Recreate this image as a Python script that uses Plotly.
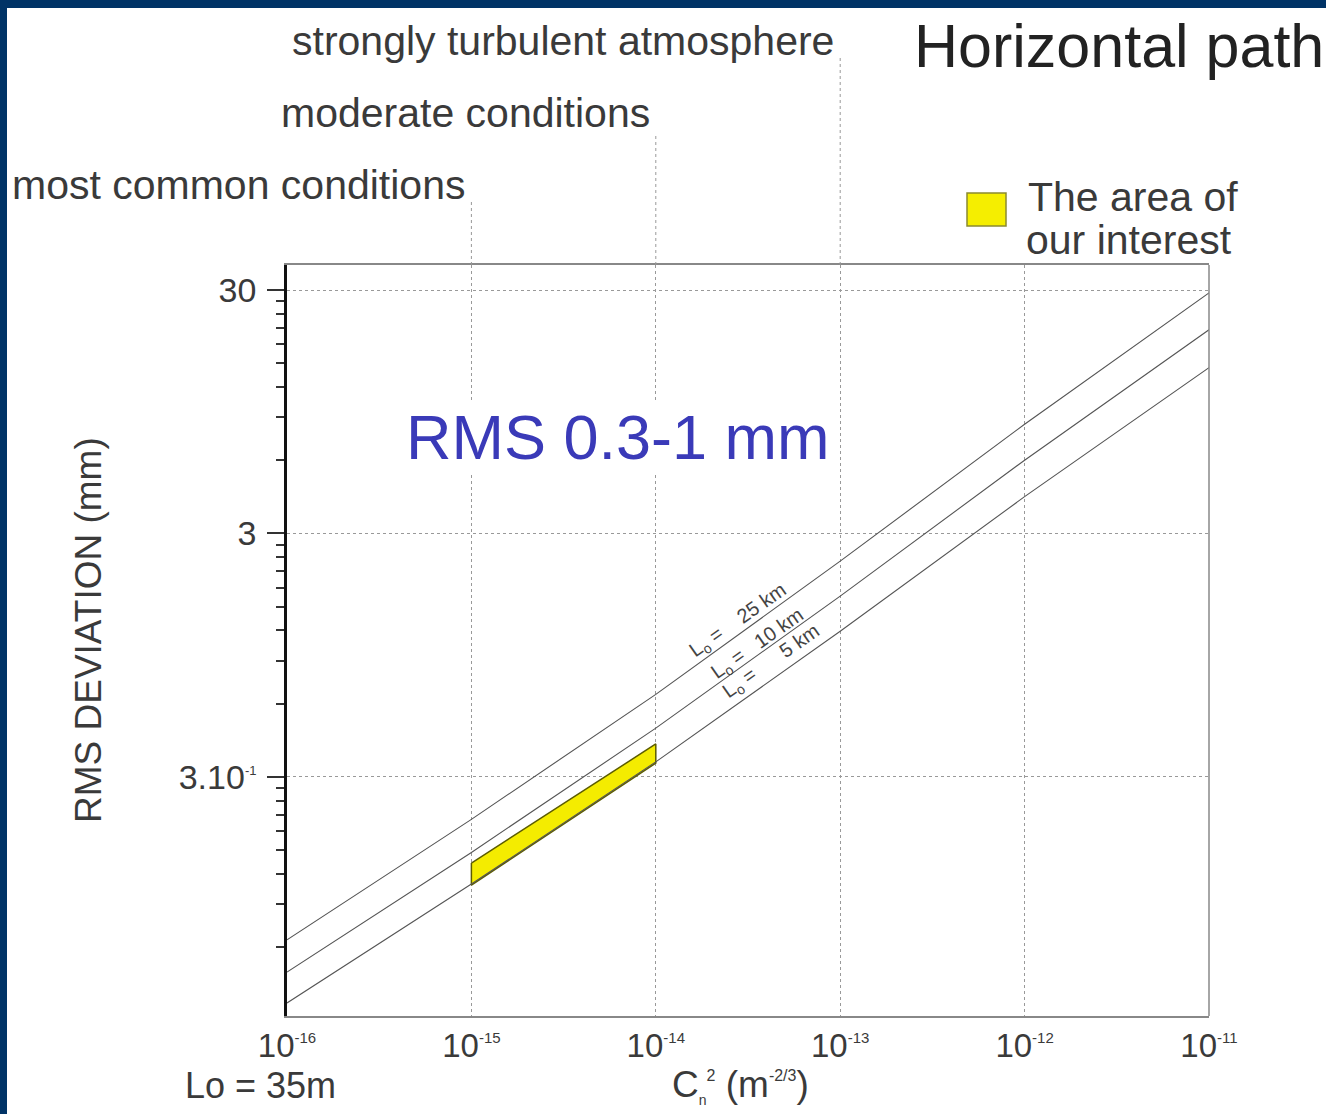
import math
import plotly.graph_objects as go

# ---------------- data ----------------
cn2 = [1e-16, 1e-15, 1e-14, 1e-13, 1e-12, 1e-11]
rms_25km = [0.0643, 0.201, 0.655, 2.31, 8.43, 29.2]
rms_10km = [0.0474, 0.147, 0.476, 1.66, 6.0, 20.6]
rms_5km = [0.0354, 0.109, 0.346, 1.19, 4.25, 14.4]
line_labels = ["L<sub>o</sub> =\u00a0\u00a0\u00a0 25 km",
               "L<sub>o</sub> =\u00a0\u00a0 10 km",
               "L<sub>o</sub> =\u00a0\u00a0\u00a0\u00a0\u00a0\u00a05 km"]
label_pos_x = [-13.55, -13.45, -13.37]      # log10 positions of line labels
label_pos_y = [0.118, 0.022, -0.048]

area_x = [1e-15, 1e-14, 1e-14, 1e-15, 1e-15]
area_y = [0.133, 0.41, 0.342, 0.108, 0.133]

x_tickvals = cn2
x_ticktext = ["10<sup><span style='font-size:15px'>-16</span></sup>",
              "10<sup><span style='font-size:15px'>-15</span></sup>",
              "10<sup><span style='font-size:15px'>-14</span></sup>",
              "10<sup><span style='font-size:15px'>-13</span></sup>",
              "10<sup><span style='font-size:15px'>-12</span></sup>",
              "10<sup><span style='font-size:15px'>-11</span></sup>"]
y_tickvals = [0.3, 3, 30]
y_ticktext = ["3.10<sup><span style='font-size:13px'>-1</span></sup>", "3", "30"]
y_minor = [0.06, 0.09, 0.12, 0.15, 0.18, 0.21, 0.24, 0.27,
           0.6, 0.9, 1.2, 1.5, 1.8, 2.1, 2.4, 2.7,
           6, 9, 12, 15, 18, 21, 24, 27]

cond_labels = ["most common conditions", "moderate conditions", "strongly turbulent atmosphere"]
cond_x = [1e-15, 1e-14, 1e-13]

# ---------------- layout constants ----------------
W, H = 1326, 1114
L, R, T, B = 287, 117, 265, 98
PW, PH = W - L - R, H - T - B
FONT = "Liberation Sans, Arial, sans-serif"
NAVY = "#003366"
TXT = "#3a3a3a"


def px(xp):
    return (xp - L) / PW


def py(yp):
    return (H - B - yp) / PH


fig = go.Figure()

# area of interest
fig.add_trace(go.Scatter(x=area_x, y=area_y, mode="lines", fill="toself",
                         fillcolor="#f4ec00", line=dict(color="#5c5c00", width=1.5),
                         hoverinfo="skip", showlegend=False))

for vals in (rms_25km, rms_10km, rms_5km):
    fig.add_trace(go.Scatter(x=cn2, y=vals, mode="lines",
                             line=dict(color="#555555", width=1.1),
                             hoverinfo="skip", showlegend=False))

annotations = []
for txt, lx, ly in zip(line_labels, label_pos_x, label_pos_y):
    annotations.append(dict(x=lx, y=ly, xref="x", yref="y", text=txt, showarrow=False,
                            textangle=-35, font=dict(family=FONT, size=20, color="#444444")))

# condition labels with dotted lines above the plot
cond_top_y = [200, 133, 58]
cond_text_y = [185, 113, 41]
shapes = []
for lab, cx, ty, tty in zip(cond_labels, cond_x, cond_top_y, cond_text_y):
    shapes.append(dict(type="line", xref="x", yref="paper", x0=cx, x1=cx, y0=1, y1=py(ty),
                       line=dict(color="#999999", width=1, dash="dot")))
    annotations.append(dict(x=math.log10(cx), y=py(tty), xref="x", yref="paper", text=lab,
                            showarrow=False, xanchor="right", yanchor="middle", xshift=-4,
                            font=dict(family=FONT, size=41, color=TXT)))

annotations += [
    dict(x=px(912), y=py(46), xref="paper", yref="paper", text="Horizontal path",
         showarrow=False, xanchor="left", yanchor="middle",
         font=dict(family=FONT, size=61, color="#222222")),
    dict(x=px(1026), y=py(197), xref="paper", yref="paper", text="The area of",
         showarrow=False, xanchor="left", yanchor="middle",
         font=dict(family=FONT, size=41, color=TXT)),
    dict(x=px(1024), y=py(240), xref="paper", yref="paper", text="our interest",
         showarrow=False, xanchor="left", yanchor="middle",
         font=dict(family=FONT, size=41, color=TXT)),
    dict(x=px(618), y=py(437), xref="paper", yref="paper", text="RMS 0.3-1 mm",
         showarrow=False, xanchor="center", yanchor="middle", bgcolor="white",
         font=dict(family=FONT, size=63, color="#3a3ab8")),
    dict(x=px(88), y=py(630), xref="paper", yref="paper", text="RMS DEVIATION (mm)",
         showarrow=False, textangle=-90, xanchor="center", yanchor="middle",
         font=dict(family=FONT, size=37, color=TXT)),
    dict(x=px(740), y=py(1086), xref="paper", yref="paper",
         text="C<sub><span style='font-size:14px'>n</span></sub><sup><span style='font-size:16px'>2</span></sup>\u00a0(m<sup><span style='font-size:16px'>-2/3</span></sup>)",
         showarrow=False, xanchor="center", yanchor="middle",
         font=dict(family=FONT, size=37, color=TXT)),
    dict(x=px(183), y=py(1085), xref="paper", yref="paper", text="Lo = 35m",
         showarrow=False, xanchor="left", yanchor="middle",
         font=dict(family=FONT, size=36, color=TXT)),
]

shapes += [
    # legend swatch
    dict(type="rect", xref="paper", yref="paper", x0=px(967), x1=px(1006), y0=py(226), y1=py(193),
         fillcolor="#f5ee00", line=dict(color="#8a8a30", width=1.5)),
    # right border of plot
    dict(type="line", xref="paper", yref="paper", x0=1, x1=1, y0=0, y1=1,
         line=dict(color="#888888", width=1.5)),
    # navy frame
    dict(type="rect", xref="paper", yref="paper", x0=px(0), x1=px(7), y0=py(H), y1=py(0),
         fillcolor=NAVY, line=dict(width=0), layer="above"),
    dict(type="rect", xref="paper", yref="paper", x0=px(0), x1=px(W), y0=py(8), y1=py(0),
         fillcolor=NAVY, line=dict(width=0), layer="above"),
]

fig.update_layout(
    width=W, height=H,
    margin=dict(l=L, r=R, t=T, b=B, pad=0),
    paper_bgcolor="white", plot_bgcolor="white",
    font=dict(family=FONT, color=TXT),
    showlegend=False,
    annotations=annotations,
    shapes=shapes,
    xaxis=dict(type="log", range=[-16, -11], tickmode="array", tickvals=x_tickvals,
               ticktext=x_ticktext, tickfont=dict(size=33, color=TXT), ticks="",
               ticklabelstandoff=0,
               showgrid=True, gridcolor="#999999", griddash="dot", gridwidth=1,
               showline=True, linecolor="#888888", linewidth=1.5, mirror=True,
               zeroline=False, fixedrange=True),
    yaxis=dict(type="log", range=[math.log10(0.0313), math.log10(38)], tickmode="array",
               tickvals=y_tickvals, ticktext=y_ticktext, tickfont=dict(size=34, color=TXT),
               ticks="outside", ticklen=17, tickwidth=1.5, tickcolor="#333333",
               ticklabelstandoff=4,
               showgrid=True, gridcolor="#999999", griddash="dot", gridwidth=1,
               showline=True, linecolor="#111111", linewidth=2.5,
               minor=dict(tickmode="array", tickvals=y_minor, ticks="outside", ticklen=8,
                          tickwidth=1.5, tickcolor="#333333", showgrid=False),
               zeroline=False, fixedrange=True),
)

fig.write_html("out.html", config={"displayModeBar": False},
               post_script="document.body.style.margin='0px';")
